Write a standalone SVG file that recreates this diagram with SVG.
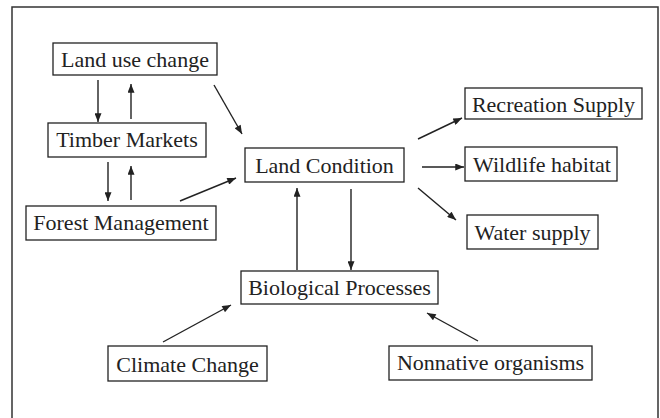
<svg xmlns="http://www.w3.org/2000/svg" width="660" height="418" viewBox="0 0 660 418">
  <style>
    .box { fill: #fff; stroke: #222; stroke-width: 1.3; }
    .lbl { font-family: "Liberation Serif", "Times New Roman", serif; font-size: 22px; fill: #222; text-anchor: middle; }
    .edge { stroke: #222; stroke-width: 1.4; fill: none; marker-end: url(#arrow); }
    .frame { fill: none; stroke: #333; stroke-width: 1.5; }
  </style>
  <defs>
    <marker id="arrow" viewBox="0 0 10 8" refX="10" refY="4" markerWidth="10" markerHeight="7" markerUnits="userSpaceOnUse" orient="auto">
      <path d="M0,0 L10,4 L0,8 Z" fill="#222"/>
    </marker>
  </defs>
  <rect width="660" height="418" fill="#fff"/>
  <!-- outer frame, open at the bottom -->
  <path class="frame" d="M12,420 L12,7 L658,7 L658,420"/>

  <g id="connectors">
    <line class="edge" x1="98" y1="80" x2="98" y2="122"/>
    <line class="edge" x1="131" y1="119" x2="131" y2="84"/>
    <line class="edge" x1="108" y1="162" x2="108" y2="201"/>
    <line class="edge" x1="131" y1="200" x2="131" y2="166"/>
    <line class="edge" x1="214" y1="85" x2="242" y2="134"/>
    <line class="edge" x1="180" y1="201" x2="236" y2="178"/>
    <line class="edge" x1="297" y1="270" x2="297" y2="188"/>
    <line class="edge" x1="351" y1="189" x2="351" y2="270"/>
    <line class="edge" x1="418" y1="139" x2="462" y2="118"/>
    <line class="edge" x1="422" y1="167" x2="464" y2="167"/>
    <line class="edge" x1="418" y1="188" x2="456" y2="220"/>
    <line class="edge" x1="163" y1="342" x2="231" y2="305"/>
    <line class="edge" x1="478" y1="341" x2="427" y2="313"/>
  </g>

  <g id="land-use-change">
    <rect class="box" x="53" y="43" width="164" height="32"/>
    <text class="lbl" x="135" y="67">Land use change</text>
  </g>
  <g id="timber-markets">
    <rect class="box" x="48" y="123" width="158" height="34"/>
    <text class="lbl" x="127" y="147">Timber Markets</text>
  </g>
  <g id="forest-management">
    <rect class="box" x="26" y="206" width="190" height="34"/>
    <text class="lbl" x="121" y="230">Forest Management</text>
  </g>
  <g id="land-condition">
    <rect class="box" x="245" y="148" width="159" height="34"/>
    <text class="lbl" x="324.5" y="173">Land Condition</text>
  </g>
  <g id="recreation-supply">
    <rect class="box" x="465" y="88" width="177" height="31"/>
    <text class="lbl" x="553.5" y="112">Recreation Supply</text>
  </g>
  <g id="wildlife-habitat">
    <rect class="box" x="465" y="147" width="152" height="34"/>
    <text class="lbl" x="542" y="172">Wildlife habitat</text>
  </g>
  <g id="water-supply">
    <rect class="box" x="467" y="215" width="131" height="34"/>
    <text class="lbl" x="532.5" y="240">Water supply</text>
  </g>
  <g id="biological-processes">
    <rect class="box" x="241" y="271" width="197" height="33"/>
    <text class="lbl" x="339.5" y="295">Biological Processes</text>
  </g>
  <g id="climate-change">
    <rect class="box" x="108" y="346" width="159" height="35"/>
    <text class="lbl" x="187.5" y="372">Climate Change</text>
  </g>
  <g id="nonnative-organisms">
    <rect class="box" x="389" y="346" width="203" height="34"/>
    <text class="lbl" x="490.5" y="370">Nonnative organisms</text>
  </g>
</svg>
